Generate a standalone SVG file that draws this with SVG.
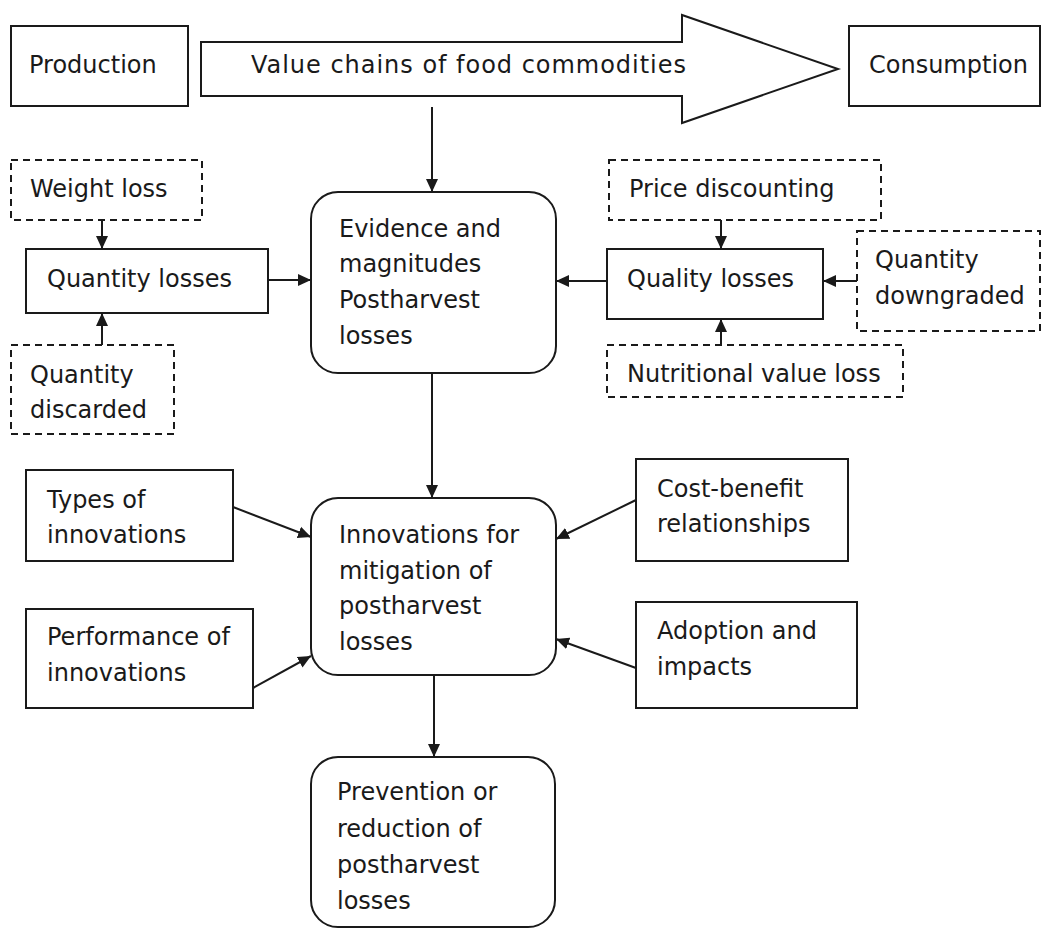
<svg xmlns="http://www.w3.org/2000/svg" width="1045" height="929" viewBox="0 0 1045 929">
<defs>
<marker id="ah" markerUnits="userSpaceOnUse" markerWidth="14" markerHeight="14" viewBox="0 0 14 14" refX="13" refY="7" orient="auto">
<path d="M0,1 L13,7 L0,13 Z" fill="#1a1a1a"/>
</marker>
<style>
.box{fill:#fff;stroke:#1a1a1a;stroke-width:2}
.dash{fill:#fff;stroke:#1a1a1a;stroke-width:2;stroke-dasharray:7,5}
.t{font-family:"DejaVu Sans","Liberation Sans",sans-serif;font-size:24px;fill:#1a1a1a}
.c{fill:none;stroke:#1a1a1a;stroke-width:2;marker-end:url(#ah)}
</style>
</defs>
<rect width="1045" height="929" fill="#fff"/>
<g id="production"><rect class="box" x="11" y="26" width="177" height="80"/><text class="t" x="29" y="73">Production</text></g>
<g id="value-chain"><polygon class="box" points="201,42 682,42 682,15 838,69 682,123 682,96 201,96"/><text class="t" x="251" y="73" textLength="435" lengthAdjust="spacing">Value chains of food commodities</text></g>
<g id="consumption"><rect class="box" x="849" y="26" width="191" height="80"/><text class="t" x="869" y="73">Consumption</text></g>
<g id="weight-loss"><rect class="dash" x="11" y="160" width="191" height="60"/><text class="t" x="30" y="197">Weight loss</text></g>
<g id="quantity-losses"><rect class="box" x="26" y="249" width="242" height="64"/><text class="t" x="47" y="287">Quantity losses</text></g>
<g id="quantity-discarded"><rect class="dash" x="11" y="345" width="163" height="89"/><text class="t" x="30" y="383">Quantity</text><text class="t" x="30" y="418">discarded</text></g>
<g id="evidence"><rect class="box" x="311" y="192" width="245" height="181" rx="27"/><text class="t" x="339" y="237">Evidence and</text><text class="t" x="339" y="272">magnitudes</text><text class="t" x="339" y="308">Postharvest</text><text class="t" x="339" y="344">losses</text></g>
<g id="price-discounting"><rect class="dash" x="609" y="160" width="272" height="60"/><text class="t" x="629" y="197">Price discounting</text></g>
<g id="quality-losses"><rect class="box" x="607" y="249" width="216" height="70"/><text class="t" x="627" y="287">Quality losses</text></g>
<g id="quantity-downgraded"><rect class="dash" x="857" y="231" width="183" height="100"/><text class="t" x="875" y="268">Quantity</text><text class="t" x="875" y="304">downgraded</text></g>
<g id="nutritional"><rect class="dash" x="607" y="345" width="296" height="52"/><text class="t" x="627" y="382">Nutritional value loss</text></g>
<g id="innovations"><rect class="box" x="311" y="498" width="245" height="177" rx="27"/><text class="t" x="339" y="543">Innovations for</text><text class="t" x="339" y="579">mitigation of</text><text class="t" x="339" y="614">postharvest</text><text class="t" x="339" y="650">losses</text></g>
<g id="types"><rect class="box" x="26" y="470" width="207" height="91"/><text class="t" x="47" y="508">Types of</text><text class="t" x="47" y="543">innovations</text></g>
<g id="performance"><rect class="box" x="26" y="609" width="227" height="99"/><text class="t" x="47" y="645">Performance of</text><text class="t" x="47" y="681">innovations</text></g>
<g id="cost-benefit"><rect class="box" x="636" y="459" width="212" height="102"/><text class="t" x="657" y="497">Cost-benefit</text><text class="t" x="657" y="532">relationships</text></g>
<g id="adoption"><rect class="box" x="636" y="602" width="221" height="106"/><text class="t" x="657" y="639">Adoption and</text><text class="t" x="657" y="675">impacts</text></g>
<g id="prevention"><rect class="box" x="311" y="757" width="244" height="170" rx="27"/><text class="t" x="337" y="800">Prevention or</text><text class="t" x="337" y="837">reduction of</text><text class="t" x="337" y="873">postharvest</text><text class="t" x="337" y="909">losses</text></g>
<g id="connectors">
<line class="c" x1="432" y1="107" x2="432" y2="192"/>
<line class="c" x1="102" y1="220" x2="102" y2="249"/>
<line class="c" x1="102" y1="345" x2="102" y2="313"/>
<line class="c" x1="268" y1="280" x2="311" y2="280"/>
<line class="c" x1="721" y1="220" x2="721" y2="249"/>
<line class="c" x1="721" y1="345" x2="721" y2="319"/>
<line class="c" x1="607" y1="281" x2="556" y2="281"/>
<line class="c" x1="857" y1="281" x2="823" y2="281"/>
<line class="c" x1="432" y1="373" x2="432" y2="498"/>
<line class="c" x1="233" y1="507" x2="311" y2="537"/>
<line class="c" x1="253" y1="688" x2="311" y2="656"/>
<line class="c" x1="636" y1="500" x2="556" y2="539"/>
<line class="c" x1="636" y1="668" x2="556" y2="639"/>
<line class="c" x1="434" y1="675" x2="434" y2="757"/>
</g>
</svg>
